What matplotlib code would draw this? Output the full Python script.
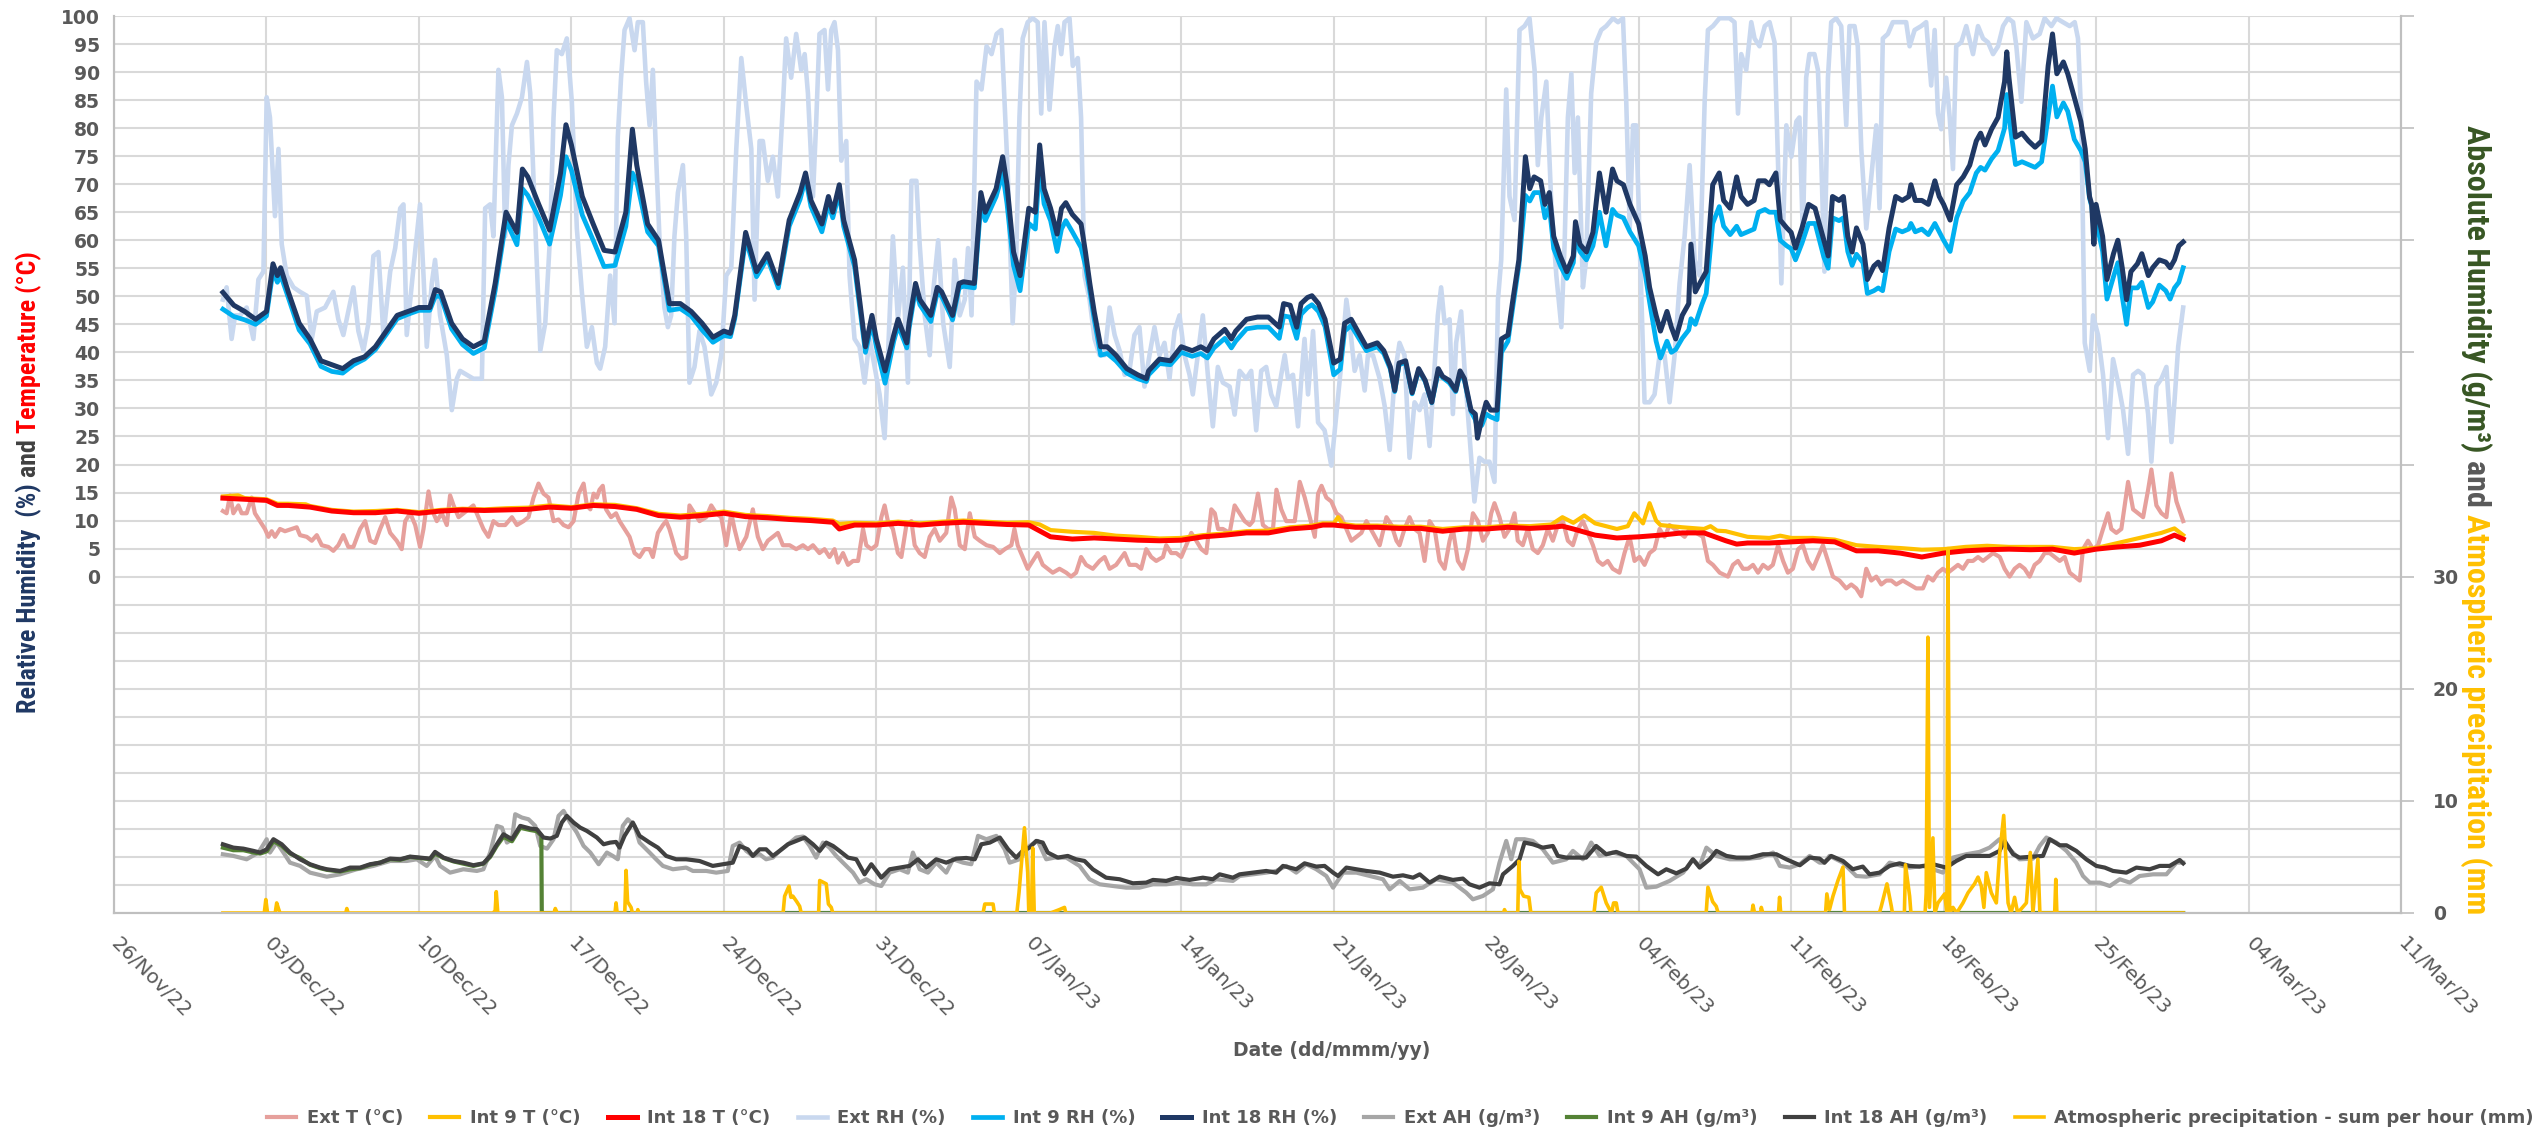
import numpy as np
import matplotlib
matplotlib.use("Agg")
import matplotlib.pyplot as plt
import matplotlib.dates as mdates
from matplotlib import font_manager
from matplotlib.ticker import FixedLocator, FuncFormatter
from datetime import datetime, timedelta

# ---------------- DATA (days since 01/Dec/22) ----------------
START = datetime(2022, 12, 1)

rh18_t = [0, 0.5, 1, 1.5, 2, 2.3, 2.5, 2.65, 3, 3.5, 4, 4.5, 5, 5.5, 6, 6.5, 7, 7.5, 8, 8.5, 9, 9.5, 9.75, 10,
          10.5, 11, 11.5, 12, 12.5, 13, 13.5, 13.75, 14, 14.5, 15, 15.5, 15.75, 16, 16.5, 17, 17.5, 18, 18.5, 18.8,
          19, 19.5, 20, 20.5, 21, 21.5, 22, 22.5, 23, 23.3, 23.5, 24, 24.5, 25, 25.5, 26, 26.5, 26.75, 27, 27.5,
          27.8, 28, 28.3, 28.5, 29, 29.5, 29.8, 30, 30.4, 30.8, 31, 31.4, 31.5, 31.8, 32, 32.5, 32.8, 33, 33.5,
          33.8, 34, 34.5, 34.8, 35, 35.5, 35.8, 36, 36.3, 36.6, 37, 37.3, 37.5, 37.7, 38, 38.3, 38.5, 38.7, 39,
          39.4, 39.6, 39.8, 40, 40.3, 40.6, 41, 41.5, 42, 42.4, 42.5, 43, 43.5, 44, 44.5, 44.9, 45.2, 45.5, 46,
          46.3, 46.5, 47, 47.5, 48, 48.5, 48.7, 49, 49.3, 49.5, 49.8, 50, 50.3, 50.6, 51, 51.3, 51.5, 51.8, 52,
          52.3, 52.5, 53, 53.3, 53.6, 53.8, 54, 54.3, 54.6, 54.9, 55.2, 55.5, 55.8, 56, 56.3, 56.6, 56.8, 57,
          57.3, 57.5, 57.6, 57.8, 58, 58.2, 58.5, 58.7, 59, 59.2, 59.5, 59.8, 60, 60.2, 60.5, 60.7, 60.9, 61.1,
          61.4, 61.7, 62, 62.1, 62.3, 62.6, 62.9, 63.2, 63.5, 63.8, 64, 64.3, 64.6, 65, 65.3, 65.5, 65.8, 66,
          66.3, 66.5, 66.7, 67, 67.3, 67.4, 67.6, 67.9, 68.1, 68.4, 68.7, 68.9, 69.2, 69.5, 69.7, 70, 70.3, 70.5,
          70.8, 71, 71.3, 71.5, 71.8, 72, 72.2, 72.5, 72.8, 73.1, 73.5, 73.7, 73.9, 74.2, 74.4, 74.6, 74.8, 75,
          75.3, 75.5, 75.8, 76, 76.2, 76.5, 76.8, 77.1, 77.4, 77.5, 77.7, 78, 78.3, 78.6, 78.8, 79, 79.3, 79.6,
          79.9, 80.2, 80.5, 80.7, 80.9, 81.2, 81.4, 81.5, 81.8, 81.9, 82, 82.3, 82.6, 82.9, 83.2, 83.5, 83.8, 84,
          84.2, 84.5, 84.7, 85, 85.3, 85.5, 85.7, 85.8, 85.9, 86, 86.3, 86.5, 86.8, 87, 87.2, 87.4, 87.6, 87.9,
          88.1, 88.4, 88.6, 88.9, 89.2, 89.4, 89.6, 89.8, 90]
int18_rh = [50.7, 48.4, 47.3, 45.9, 47.3, 55.8, 53.7, 55.1, 50.8, 45.2, 42.4, 38.5, 37.8, 37.1, 38.5, 39.2, 41.0,
            43.8, 46.6, 47.3, 48.0, 48.0, 51.2, 50.8, 45.2, 42.4, 41.0, 42.0, 52.3, 65.0, 61.4, 72.7, 71.3, 66.4,
            61.8, 72.0, 80.6, 77.0, 67.8, 62.9, 58.2, 57.9, 65.0, 79.8, 73.4, 62.9, 60.0, 48.7, 48.7, 47.3, 45.2,
            42.7, 43.8, 43.4, 46.6, 61.4, 54.4, 57.6, 52.3, 63.6, 68.5, 72.0, 67.1, 62.9, 67.8, 65.0, 69.9, 63.6,
            56.5, 41.0, 46.6, 42.4, 36.7, 43.1, 45.9, 41.7, 45.2, 52.3, 49.4, 46.6, 51.6, 50.8, 46.6, 52.3, 52.6,
            52.3, 68.5, 65.0, 69.2, 74.9, 69.9, 57.9, 53.7, 65.7, 65.0, 77.0, 69.2, 65.7, 61.1, 65.7, 66.7, 64.6,
            62.9, 57.9, 52.3, 47.3, 41.0, 41.0, 39.5, 37.1, 36.0, 35.3, 36.7, 38.8, 38.5, 41.0, 40.3, 41.0, 40.3,
            42.4, 44.1, 42.4, 43.8, 45.9, 46.3, 46.3, 44.5, 48.7, 48.4, 44.5, 48.7, 49.8, 50.1, 48.7, 45.9, 38.1,
            38.8, 45.2, 45.9, 44.5, 42.4, 41.0, 41.7, 40.3, 37.4, 33.2, 38.1, 38.5, 32.8, 37.1, 35.0, 31.1, 37.1,
            35.7, 35.0, 33.2, 36.7, 35.3, 29.7, 29.0, 24.7, 28.2, 31.1, 29.7, 29.7, 42.4, 43.1, 48.7, 56.5, 74.9,
            69.2, 71.3, 70.6, 66.4, 68.5, 60.7, 57.2, 54.4, 57.2, 63.3, 59.3, 57.9, 61.4, 72.0, 65.0, 72.7, 70.6,
            69.9, 66.4, 62.9, 57.2, 51.6, 46.6, 43.8, 47.3, 44.5, 42.4, 46.6, 48.7, 59.3, 50.8, 53.0, 54.4, 69.9,
            72.0, 67.1, 65.7, 71.3, 67.8, 66.4, 67.1, 70.6, 70.6, 69.9, 72.0, 63.6, 62.2, 61.4, 58.6, 62.2, 66.4,
            65.7, 60.0, 57.2, 67.8, 67.1, 67.8, 60.7, 57.9, 62.2, 59.3, 53.0, 55.4, 56.1, 54.6, 62.2, 67.8, 67.1,
            67.8, 69.9, 67.1, 67.1, 66.4, 70.6, 67.8, 66.4, 63.6, 69.9, 71.3, 73.4, 77.7, 79.1, 77.0, 79.8, 81.2,
            81.9, 88.3, 93.6, 89.0, 78.4, 79.1, 77.7, 76.6, 77.7, 91.1, 96.8, 89.7, 91.8, 89.7, 85.5, 81.2, 76.3,
            67.8, 66.4, 59.3, 66.4, 60.7, 53.0, 57.6, 60.0, 55.1, 49.4, 54.4, 55.8, 57.6, 53.7, 55.1, 56.5, 56.1,
            55.1, 56.5, 59.0, 59.7]
int9_rh = [47.7, 46.4, 45.8, 45.0, 46.5, 54.5, 52.5, 53.8, 49.8, 44.0, 41.5, 37.5, 36.6, 36.3, 37.8, 38.8, 40.5,
           43.2, 46.0, 46.8, 47.5, 47.5, 50.0, 50.0, 44.2, 41.4, 39.8, 40.8, 51.0, 63.5, 59.2, 69.2, 68.0, 64.0,
           59.3, 68.0, 74.9, 72.5, 64.5, 60.0, 55.3, 55.5, 62.5, 72.0, 70.5, 61.5, 59.0, 47.5, 47.8, 46.5, 44.0,
           41.8, 43.0, 42.8, 46.0, 60.3, 53.5, 56.8, 51.5, 62.5, 67.3, 71.0, 66.0, 61.5, 66.5, 64.0, 68.5, 62.5,
           55.3, 40.0, 45.3, 41.0, 34.5, 42.0, 44.8, 40.8, 44.2, 51.3, 48.5, 45.5, 50.7, 50.0, 45.8, 51.5, 51.8,
           51.5, 66.5, 63.5, 67.8, 72.0, 66.5, 55.5, 51.0, 63.0, 62.0, 73.5, 66.5, 63.5, 58.0, 62.0, 63.5, 61.5,
           58.7, 55.5, 51.0, 46.0, 39.5, 39.8, 38.5, 36.3, 35.3, 34.8, 36.0, 38.0, 37.8, 40.0, 39.3, 39.8, 39.0,
           40.8, 42.5, 40.8, 42.0, 44.2, 44.5, 44.5, 42.5, 46.5, 46.3, 42.5, 46.8, 48.0, 48.5, 47.3, 44.6, 36.0,
           37.0, 43.8, 44.8, 43.5, 41.6, 40.3, 41.0, 39.8, 37.0, 33.0, 37.8, 38.2, 32.6, 36.8, 34.8, 31.0, 36.5,
           35.5, 34.6, 33.0, 36.2, 35.0, 29.5, 28.0, 26.5, 27.0, 29.0, 28.5, 28.0, 40.0, 42.0, 47.5, 55.5, 68.0,
           67.0, 68.5, 68.5, 64.0, 66.0, 58.5, 55.5, 53.2, 56.0, 61.0, 58.0, 56.5, 59.0, 65.0, 59.0, 65.5, 64.5,
           64.0, 61.5, 59.0, 54.0, 49.0, 42.0, 39.0, 42.0, 40.0, 40.5, 42.5, 44.0, 46.0, 45.0, 48.5, 50.5, 63.0,
           66.0, 62.5, 61.0, 62.5, 61.0, 61.5, 62.0, 65.0, 65.5, 65.0, 65.0, 60.0, 59.0, 58.5, 56.5, 59.5, 63.0,
           63.0, 57.0, 55.0, 64.0, 63.5, 64.0, 58.0, 55.5, 57.5, 56.0, 50.5, 51.0, 51.5, 51.0, 58.0, 62.0, 61.5,
           62.0, 63.0, 61.5, 62.0, 61.0, 63.0, 61.5, 60.0, 58.0, 64.0, 67.0, 68.5, 72.0, 73.0, 72.5, 74.5, 75.5,
           76.0, 80.0, 86.0, 82.0, 73.5, 74.0, 73.5, 73.0, 74.0, 82.0, 87.5, 82.0, 84.5, 83.0, 78.0, 76.0, 74.0,
           67.5, 66.0, 62.0, 63.5, 58.0, 49.5, 53.5, 56.0, 50.0, 45.0, 51.5, 51.5, 52.5, 48.0, 49.0, 52.0, 51.0,
           49.5, 51.5, 52.5, 55.1]

ext_rh_t = [0, 0.17, 0.40, 0.56, 0.79, 1.09, 1.40, 1.63, 1.86, 2.01, 2.16, 2.39, 2.55, 2.70, 2.93, 3.24, 3.54,
            3.85, 4.08, 4.31, 4.69, 5.07, 5.30, 5.53, 5.99, 6.22, 6.45, 6.68, 6.91, 7.14, 7.37, 7.68, 7.91, 8.14,
            8.29, 8.44, 8.75, 9.05, 9.21, 9.36, 9.59, 9.74, 9.97, 10.28, 10.51, 10.74, 10.89, 11.20, 11.50, 11.89,
            12.04, 12.27, 12.42, 12.65, 12.81, 12.96, 13.11, 13.27, 13.50, 13.73, 13.96, 14.11, 14.34, 14.57,
            14.80, 15.03, 15.18, 15.33, 15.56, 15.79, 16.02, 16.25, 16.48, 16.71, 16.94, 17.17, 17.32, 17.55,
            17.78, 17.98, 18.13, 18.28, 18.44, 18.67, 18.90, 19.05, 19.28, 19.43, 19.59, 19.74, 19.89, 20.04,
            20.27, 20.43, 20.58, 20.73, 20.89, 21.12, 21.27, 21.42, 21.65, 21.88, 22.11, 22.42, 22.65, 22.88,
            23.11, 23.34, 23.57, 23.80, 24.03, 24.26, 24.41, 24.64, 24.79, 25.02, 25.25, 25.48, 25.71, 25.86,
            26.09, 26.32, 26.55, 26.71, 26.86, 27.09, 27.24, 27.39, 27.62, 27.78, 27.93, 28.08, 28.24, 28.39,
            28.62, 28.77, 29.00, 29.23, 29.46, 29.69, 29.92, 30.15, 30.38, 30.61, 30.76, 30.99, 31.22, 31.45,
            31.61, 31.84, 31.99, 32.22, 32.45, 32.61, 32.84, 33.07, 33.37, 33.60, 33.83, 34.06, 34.21, 34.37,
            34.60, 34.83, 35.06, 35.29, 35.52, 35.74, 36.04, 36.26, 36.42, 36.57, 36.72, 36.95, 37.18, 37.41,
            37.57, 37.72, 37.95, 38.18, 38.33, 38.49, 38.64, 38.87, 39.02, 39.25, 39.40, 39.56, 39.79, 40.02,
            40.25, 40.48, 40.71, 40.94, 41.17, 41.40, 41.62, 41.85, 42.08, 42.31, 42.54, 42.77, 43.00, 43.23,
            43.46, 43.69, 43.92, 44.15, 44.38, 44.53, 44.76, 44.99, 45.22, 45.45, 45.68, 45.91, 46.22, 46.45,
            46.68, 46.98, 47.21, 47.44, 47.67, 47.90, 48.13, 48.36, 48.59, 48.75, 48.90, 49.13, 49.36, 49.51,
            49.66, 49.82, 50.05, 50.28, 50.58, 50.89, 51.12, 51.35, 51.58, 51.73, 51.96, 52.19, 52.42, 52.57,
            52.80, 53.11, 53.34, 53.57, 53.80, 54.02, 54.25, 54.48, 54.71, 54.94, 55.17, 55.40, 55.63, 55.78,
            55.93, 56.09, 56.32, 56.47, 56.62, 56.85, 57.00, 57.16, 57.31, 57.46, 57.69, 57.92, 58.15, 58.38,
            58.54, 58.69, 58.92, 59.07, 59.30, 59.53, 59.76, 59.99, 60.22, 60.37, 60.53, 60.76, 60.99, 61.22,
            61.45, 61.60, 61.75, 61.91, 62.06, 62.21, 62.44, 62.59, 62.82, 63.05, 63.28, 63.51, 63.82, 64.05,
            64.28, 64.43, 64.59, 64.74, 64.89, 65.04, 65.27, 65.50, 65.73, 65.96, 66.19, 66.42, 66.65, 66.88,
            67.11, 67.34, 67.57, 67.80, 68.03, 68.18, 68.41, 68.71, 69.17, 69.40, 69.56, 69.71, 69.94, 70.17,
            70.32, 70.55, 70.79, 71.01, 71.24, 71.39, 71.55, 71.78, 72.01, 72.24, 72.38, 72.54, 72.69, 72.84,
            73.07, 73.23, 73.38, 73.53, 73.69, 73.84, 74.07, 74.30, 74.53, 74.68, 74.91, 75.06, 75.22, 75.45,
            75.68, 75.91, 76.06, 76.21, 76.44, 76.67, 76.98, 77.28, 77.44, 77.67, 77.97, 78.20, 78.43, 78.59,
            78.74, 78.89, 79.12, 79.28, 79.43, 79.58, 79.81, 80.04, 80.35, 80.58, 80.81, 81.04, 81.27, 81.50,
            81.73, 81.96, 82.19, 82.34, 82.57, 82.80, 83.10, 83.41, 83.64, 83.95, 84.18, 84.48, 84.79, 85.02,
            85.17, 85.32, 85.48, 85.71, 85.86, 86.09, 86.32, 86.55, 86.78, 87.01, 87.24, 87.47, 87.70, 87.93,
            88.16, 88.39, 88.54, 88.77, 89.00, 89.23, 89.46, 89.61, 89.77, 90.00]
ext_rh = [49.4, 51.6, 42.4, 46.6, 46.6, 48.0, 42.4, 53.0, 54.4, 85.5, 81.9, 64.3, 76.3, 59.3, 53.7, 51.6, 50.8,
          50.1, 42.4, 47.3, 48.0, 50.8, 45.9, 43.1, 51.6, 43.8, 40.3, 45.2, 57.2, 57.9, 43.1, 54.4, 58.6, 65.7,
          66.4, 43.1, 55.1, 66.4, 53.7, 41.0, 52.3, 56.5, 46.6, 39.5, 29.7, 35.3, 36.7, 36.0, 35.3, 35.3, 65.7,
          66.4, 60.7, 90.4, 85.5, 60.7, 73.4, 80.5, 82.6, 85.5, 91.8, 86.2, 62.9, 40.3, 45.2, 61.4, 81.9, 93.9,
          93.2, 96.0, 84.7, 62.1, 50.8, 41.0, 44.5, 38.1, 37.1, 41.0, 53.7, 45.2, 78.4, 89.0, 97.5, 99.6, 93.9,
          98.9, 98.9, 88.3, 80.5, 90.4, 74.9, 60.7, 48.0, 44.5, 46.6, 60.7, 68.5, 73.4, 60.7, 34.6, 37.4, 43.8,
          41.0, 32.5, 34.6, 39.5, 53.7, 55.1, 76.3, 92.5, 84.0, 76.3, 49.4, 77.7, 77.7, 70.6, 74.9, 67.8, 84.0,
          96.0, 89.0, 96.8, 90.4, 93.2, 86.2, 67.8, 81.2, 96.8, 97.5, 86.9, 97.5, 98.9, 93.9, 74.2, 77.7, 53.7,
          42.4, 41.0, 34.6, 42.4, 37.4, 32.5, 24.7, 46.6, 60.7, 45.9, 55.1, 34.6, 70.6, 70.6, 59.3, 46.6, 39.5,
          50.8, 60.0, 45.2, 37.4, 56.5, 46.6, 49.4, 58.6, 46.6, 88.3, 86.9, 94.6, 93.2, 96.8, 97.5, 71.3, 45.2,
          56.5, 81.9, 96.0, 98.9, 99.6, 98.9, 82.6, 98.9, 83.3, 94.6, 98.2, 93.2, 98.9, 99.6, 91.1, 92.5, 81.9,
          53.7, 49.4, 42.4, 39.5, 39.5, 48.0, 43.1, 40.3, 36.0, 36.7, 43.1, 44.5, 33.9, 39.5, 44.5, 39.5, 41.7,
          35.3, 43.8, 46.6, 39.5, 36.0, 32.5, 39.5, 46.6, 36.0, 26.8, 37.4, 34.6, 33.9, 28.9, 36.7, 35.3, 36.7,
          26.1, 36.7, 37.4, 32.5, 30.4, 36.0, 39.5, 35.3, 36.0, 26.8, 35.3, 42.4, 32.5, 43.8, 27.5, 26.1, 19.8,
          28.9, 38.1, 49.4, 45.2, 36.7, 39.5, 33.2, 39.5, 39.5, 35.3, 30.4, 22.6, 36.0, 41.7, 39.5, 21.2, 31.1,
          29.7, 32.5, 23.3, 37.4, 46.6, 51.6, 45.2, 45.9, 29.0, 41.7, 47.3, 37.4, 29.0, 21.2, 13.4, 21.2, 20.5,
          20.5, 16.9, 49.4, 56.5, 86.9, 67.8, 63.6, 97.5, 98.2, 99.6, 90.4, 73.4, 81.9, 88.3, 66.4, 53.7, 44.5,
          59.3, 81.9, 89.7, 72.0, 81.9, 51.6, 56.5, 86.2, 95.3, 97.5, 98.2, 99.6, 98.9, 99.6, 84.7, 62.1, 80.5,
          80.5, 60.7, 31.1, 31.1, 32.5, 39.5, 39.5, 31.1, 39.5, 52.3, 60.7, 73.4, 56.5, 53.7, 84.7, 97.5, 98.2,
          99.6, 99.6, 98.9, 82.6, 93.2, 90.4, 98.9, 96.0, 94.6, 98.2, 98.9, 95.3, 74.9, 52.3, 80.5, 74.9, 81.2,
          81.9, 60.7, 89.0, 93.2, 93.2, 90.4, 74.9, 54.4, 89.0, 98.9, 99.6, 98.2, 80.5, 98.2, 98.2, 94.6, 76.3,
          62.1, 71.3, 80.5, 65.7, 96.0, 96.8, 98.9, 98.9, 98.9, 94.6, 97.5, 98.2, 98.9, 87.6, 97.5, 82.6, 79.8,
          89.0, 81.9, 72.7, 94.6, 95.3, 98.2, 93.2, 98.2, 96.0, 95.3, 93.2, 94.6, 98.2, 99.6, 98.9, 94.6, 84.7,
          98.9, 96.0, 96.8, 99.6, 98.2, 99.6, 98.9, 98.2, 98.9, 96.0, 81.9, 41.7, 36.7, 46.6, 43.1, 36.0, 24.7,
          38.8, 34.6, 29.7, 21.9, 36.0, 36.7, 36.0, 29.0, 20.5, 34.0, 35.3, 37.4, 24.0, 31.8, 41.0, 48.0]

ext_t_t = [0, 0.17, 0.33, 0.48, 0.71, 0.86, 1.09, 1.32, 1.47, 1.70, 1.93, 2.09, 2.24, 2.39, 2.62, 2.85, 3.16,
           3.39, 3.54, 3.85, 4.08, 4.31, 4.54, 4.84, 5.07, 5.30, 5.53, 5.76, 5.99, 6.30, 6.53, 6.76, 6.99, 7.22,
           7.45, 7.68, 7.98, 8.21, 8.37, 8.60, 8.83, 9.05, 9.21, 9.44, 9.59, 9.82, 10.05, 10.28, 10.43, 10.59,
           10.82, 11.05, 11.27, 11.50, 11.73, 11.96, 12.19, 12.42, 12.65, 12.96, 13.27, 13.50, 13.80, 14.03,
           14.26, 14.49, 14.72, 14.95, 15.18, 15.41, 15.64, 15.87, 16.10, 16.33, 16.56, 16.71, 16.87, 17.02,
           17.17, 17.29, 17.44, 17.59, 17.82, 18.05, 18.21, 18.44, 18.67, 18.90, 19.13, 19.36, 19.59, 19.74,
           19.97, 20.20, 20.35, 20.50, 20.66, 20.81, 21.04, 21.27, 21.42, 21.65, 21.88, 22.19, 22.42, 22.65,
           22.88, 23.11, 23.34, 23.49, 23.72, 24.03, 24.33, 24.56, 24.79, 25.02, 25.25, 25.48, 25.71, 26.02,
           26.32, 26.63, 26.86, 27.09, 27.39, 27.62, 27.85, 28.08, 28.24, 28.47, 28.70, 28.93, 29.16, 29.39,
           29.54, 29.77, 30.00, 30.23, 30.38, 30.53, 30.76, 30.99, 31.15, 31.38, 31.61, 31.76, 31.99, 32.22,
           32.45, 32.68, 32.91, 33.21, 33.44, 33.60, 33.83, 34.06, 34.29, 34.52, 34.75, 35.06, 35.36, 35.67,
           35.90, 36.20, 36.34, 36.49, 36.72, 36.95, 37.18, 37.41, 37.64, 37.87, 38.10, 38.41, 38.72, 38.94,
           39.17, 39.40, 39.63, 39.94, 40.25, 40.48, 40.71, 41.01, 41.40, 41.62, 41.93, 42.16, 42.39, 42.62,
           42.85, 43.16, 43.31, 43.54, 43.77, 44.00, 44.23, 44.46, 44.69, 44.92, 45.15, 45.38, 45.54, 45.69,
           45.91, 46.22, 46.45, 46.68, 46.91, 47.14, 47.29, 47.52, 47.75, 47.98, 48.21, 48.37, 48.59, 48.82,
           48.98, 49.21, 49.44, 49.67, 49.90, 50.13, 50.28, 50.44, 50.66, 50.89, 51.12, 51.35, 51.58, 51.81,
           52.04, 52.27, 52.50, 52.80, 53.11, 53.42, 53.65, 53.88, 54.02, 54.25, 54.48, 54.71, 54.94, 55.17,
           55.40, 55.63, 55.86, 56.09, 56.32, 56.47, 56.70, 56.93, 57.16, 57.39, 57.62, 57.85, 58.08, 58.23,
           58.38, 58.61, 58.84, 59.07, 59.30, 59.45, 59.68, 59.91, 60.14, 60.37, 60.60, 60.83, 61.06, 61.29,
           61.52, 61.75, 61.98, 62.21, 62.44, 62.67, 62.90, 63.13, 63.35, 63.58, 63.81, 64.12, 64.35, 64.58,
           64.81, 65.04, 65.27, 65.50, 65.73, 65.96, 66.19, 66.42, 66.65, 66.88, 67.11, 67.34, 67.64, 67.95,
           68.18, 68.41, 68.72, 69.10, 69.33, 69.56, 69.79, 70.02, 70.25, 70.48, 70.71, 70.94, 71.16, 71.40,
           71.63, 71.85, 72.08, 72.32, 72.54, 72.77, 73.00, 73.23, 73.46, 73.69, 73.92, 74.22, 74.53, 74.76,
           74.99, 75.22, 75.45, 75.68, 75.91, 76.14, 76.37, 76.60, 76.83, 77.13, 77.44, 77.74, 78.05, 78.28,
           78.51, 78.74, 78.97, 79.20, 79.43, 79.66, 79.89, 80.12, 80.35, 80.58, 80.81, 81.04, 81.27, 81.58,
           81.80, 82.03, 82.26, 82.49, 82.72, 82.95, 83.18, 83.41, 83.64, 83.87, 84.10, 84.33, 84.56, 84.79,
           85.02, 85.25, 85.40, 85.63, 85.86, 86.09, 86.32, 86.55, 86.70, 86.93, 87.16, 87.47, 87.70, 87.93,
           88.16, 88.39, 88.54, 88.77, 89.00, 89.23, 89.46, 89.69, 90.00]
ext_t = [11.7, 11.3, 14.5, 11.3, 12.7, 11.3, 11.3, 14.1, 11.3, 9.9, 8.5, 7.1, 8.1, 7.1, 8.5, 8.1, 8.5, 8.8, 7.4,
         7.1, 6.4, 7.4, 5.6, 5.3, 4.6, 5.6, 7.4, 5.3, 5.3, 8.5, 9.9, 6.4, 6.0, 8.5, 10.6, 7.8, 6.4, 4.9, 9.9,
         11.3, 9.2, 5.3, 8.5, 15.2, 12.0, 9.9, 11.3, 9.2, 14.5, 12.7, 10.6, 11.3, 12.0, 12.7, 10.6, 8.5, 7.1,
         9.9, 9.2, 9.2, 10.6, 9.2, 9.9, 10.6, 14.1, 16.6, 14.8, 14.1, 9.9, 10.2, 9.2, 8.8, 9.9, 14.8, 16.6,
         12.7, 12.0, 14.8, 14.1, 15.5, 16.2, 12.0, 10.6, 11.3, 9.9, 8.5, 7.1, 4.2, 3.5, 4.9, 4.9, 3.5, 7.8, 9.2,
         9.9, 8.5, 6.4, 4.2, 3.2, 3.5, 12.7, 11.3, 9.9, 10.6, 12.7, 11.3, 10.6, 5.6, 11.3, 8.5, 4.9, 7.1, 12.0,
         7.1, 4.9, 6.4, 7.1, 7.8, 5.6, 5.6, 4.9, 5.6, 4.9, 5.6, 4.2, 4.9, 3.5, 4.9, 2.5, 4.2, 2.1, 2.8, 2.8,
         8.5, 5.6, 4.9, 5.6, 10.6, 12.7, 9.9, 8.5, 4.2, 3.5, 9.2, 9.9, 5.6, 4.2, 3.5, 7.1, 8.5, 6.4, 7.8, 14.1,
         12.0, 5.6, 4.9, 11.3, 7.1, 6.4, 5.6, 5.3, 4.2, 4.9, 5.6, 8.5, 5.6, 3.5, 1.4, 2.8, 4.2, 2.1, 1.4, 0.7,
         1.4, 0.7, 0.0, 0.7, 3.5, 2.1, 1.4, 2.8, 3.5, 1.4, 2.1, 4.2, 2.1, 2.1, 1.4, 4.9, 3.5, 2.8, 3.5, 5.6,
         4.2, 4.2, 3.5, 5.6, 7.8, 6.4, 4.9, 4.2, 12.0, 11.3, 8.5, 8.5, 7.8, 12.7, 11.3, 9.9, 9.2, 9.9, 14.8,
         9.2, 8.5, 8.5, 15.5, 12.0, 9.9, 9.9, 9.9, 16.9, 14.1, 10.6, 7.1, 14.8, 16.2, 14.1, 13.4, 11.3, 10.6,
         8.5, 6.4, 7.1, 7.8, 9.9, 7.8, 5.6, 10.6, 9.2, 6.4, 5.6, 8.5, 10.6, 8.5, 7.8, 2.8, 9.9, 8.5, 2.8, 1.4,
         6.4, 8.5, 2.8, 1.4, 4.9, 11.3, 9.9, 6.4, 7.8, 11.3, 13.1, 10.6, 7.1, 8.5, 11.3, 6.4, 5.6, 8.5, 4.9,
         4.2, 5.6, 8.5, 6.4, 9.2, 9.9, 6.4, 5.6, 8.5, 9.9, 7.8, 5.6, 2.8, 2.1, 2.8, 1.4, 0.7, 4.2, 7.1, 2.8,
         3.5, 2.1, 4.2, 4.9, 8.5, 7.1, 9.2, 8.5, 7.8, 7.1, 8.5, 7.8, 7.1, 2.8, 2.1, 0.7, 0.0, 2.1, 2.8, 1.4,
         1.4, 2.1, 0.7, 2.1, 1.4, 2.1, 5.6, 2.8, 0.7, 1.4, 4.9, 5.6, 2.8, 1.4, 3.5, 5.6, 2.8, 0.0, -0.7, -2.1,
         -1.4, -2.1, -3.5, 1.4, -0.7, 0.0, -1.4, -0.7, -0.7, -1.4, -0.7, -1.4, -2.1, -2.1, 0.0, -0.7, 0.7, 1.4,
         0.7, 1.4, 2.1, 1.4, 2.8, 2.8, 3.5, 2.8, 3.5, 4.2, 3.5, 1.4, 0.0, 1.4, 2.1, 1.4, 0.0, 2.1, 2.8, 4.2,
         4.2, 3.5, 2.8, 3.5, 0.7, 0.0, -0.7, 4.9, 6.4, 4.9, 5.6, 8.5, 11.3, 8.5, 7.8, 8.5, 16.9, 12.0, 11.3,
         10.6, 15.5, 19.1, 12.7, 11.3, 10.6, 18.4, 13.4, 9.9]

int18_t_t = [0, 1, 2, 2.5, 3, 4, 5, 6, 7, 8, 9, 10, 11, 12, 13, 14, 15, 16, 17, 18, 19, 20, 21, 22, 23, 24, 25,
             26, 27, 28, 28.3, 29, 30, 31, 32, 33, 34, 35, 36, 37, 38, 39, 40, 41, 42, 43, 44, 45, 46, 47, 48,
             49, 50, 50.5, 51, 52, 53, 54, 55, 56, 57, 58, 59, 60, 61, 61.5, 62, 63, 64, 65, 66, 67, 68, 69,
             69.5, 70, 71, 72, 73, 74, 75, 76, 77, 78, 79, 80, 81, 82, 83, 84, 85, 86, 87, 88, 89, 89.6, 90]
int18_t = [14.0, 13.8, 13.6, 12.7, 12.7, 12.4, 11.7, 11.4, 11.4, 11.7, 11.3, 11.7, 11.9, 11.8, 11.9, 12.0, 12.4,
           12.2, 12.7, 12.5, 12.0, 10.9, 10.6, 10.9, 11.3, 10.7, 10.5, 10.2, 10.0, 9.7, 8.5, 9.2, 9.2, 9.5, 9.2,
           9.5, 9.7, 9.5, 9.3, 9.2, 7.1, 6.7, 6.9, 6.7, 6.5, 6.4, 6.5, 7.1, 7.4, 7.8, 7.8, 8.5, 8.8, 9.2, 9.2,
           8.8, 8.8, 8.6, 8.6, 8.1, 8.5, 8.5, 8.8, 8.6, 8.8, 9.0, 8.5, 7.4, 6.9, 7.1, 7.4, 7.8, 7.8, 6.4, 5.8,
           6.0, 6.0, 6.2, 6.4, 6.2, 4.6, 4.6, 4.2, 3.5, 4.2, 4.6, 4.8, 4.9, 4.8, 4.9, 4.2, 4.9, 5.3, 5.6, 6.4,
           7.4, 6.7]

int9_t_t = [0, 0.7, 1, 2, 2.5, 3, 3.8, 4, 5, 6, 7, 8, 9, 10, 11, 12, 13, 14, 15, 16, 17, 18, 19, 20, 21, 22, 23,
            24, 25, 26, 27, 28, 28.3, 29, 30, 31, 32, 33, 34, 35, 36, 37, 37.5, 38, 39, 40, 41, 42, 43, 44, 45,
            46, 47, 48, 49, 50, 50.5, 51, 51.2, 51.4, 52, 53, 54, 55, 56, 57, 58, 59, 60, 61, 61.5, 62, 62.5, 63,
            63.3, 64, 64.5, 64.8, 65.2, 65.5, 65.8, 66, 67, 68, 68.3, 68.6, 69, 70, 71, 71.5, 72, 73, 74, 75, 76,
            77, 78, 79, 80, 81, 82, 83, 84, 85, 86, 87, 88, 89, 89.6, 90]
int9_t = [14.3, 14.5, 14.0, 13.8, 13.0, 13.0, 12.9, 12.6, 11.9, 11.6, 11.7, 11.9, 11.5, 11.9, 12.1, 12.0, 12.2,
          12.3, 12.7, 12.4, 12.9, 12.8, 12.2, 11.2, 10.9, 11.2, 11.6, 11.0, 10.8, 10.5, 10.3, 10.0, 9.4, 9.6, 9.5,
          9.8, 9.5, 9.8, 10.0, 9.8, 9.6, 9.7, 9.3, 8.3, 8.0, 7.8, 7.3, 7.1, 6.8, 6.9, 7.4, 7.7, 8.1, 8.2, 8.8,
          9.1, 9.5, 9.5, 10.6, 9.4, 9.1, 9.1, 8.9, 8.9, 8.5, 8.8, 8.8, 9.1, 9.0, 9.3, 10.6, 9.6, 10.9, 9.5, 9.2,
          8.5, 9.0, 11.3, 9.5, 13.1, 10.0, 9.2, 8.8, 8.5, 9.0, 8.2, 8.1, 7.1, 6.9, 7.3, 6.9, 6.9, 6.6, 5.6, 5.3,
          5.1, 4.8, 4.9, 5.3, 5.5, 5.3, 5.3, 5.3, 4.9, 5.1, 6.0, 6.9, 7.8, 8.6, 7.4]

ah18_t = [0, 0.48, 0.94, 1.40, 1.71, 2.01, 2.32, 2.70, 3.08, 3.54, 4.00, 4.46, 4.77, 5.38, 5.84, 6.30, 6.76, 7.22,
          7.68, 8.14, 8.59, 9.05, 9.51, 9.74, 10.13, 10.59, 11.04, 11.50, 11.96, 12.27, 12.58, 12.88, 13.27,
          13.65, 14.11, 14.41, 14.72, 15.03, 15.33, 15.56, 15.79, 16.10, 16.40, 16.71, 17.17, 17.48, 17.78,
          18.05, 18.21, 18.44, 18.82, 19.13, 19.59, 19.97, 20.35, 20.81, 21.27, 21.88, 22.49, 22.95, 23.41,
          23.72, 24.10, 24.33, 24.64, 24.94, 25.25, 25.56, 25.94, 26.32, 26.71, 27.09, 27.40, 27.70, 28.01,
          28.31, 28.70, 29.08, 29.46, 29.77, 30.23, 30.61, 31.07, 31.53, 31.91, 32.30, 32.75, 33.21, 33.67,
          34.13, 34.52, 34.82, 35.21, 35.67, 36.05, 36.42, 36.72, 37.03, 37.34, 37.64, 37.87, 38.33, 38.79,
          39.17, 39.56, 39.94, 40.55, 41.17, 41.78, 42.39, 42.70, 43.31, 43.77, 44.38, 44.99, 45.45, 45.76,
          46.37, 46.68, 47.29, 47.90, 48.36, 48.67, 49.28, 49.66, 50.20, 50.58, 50.97, 51.20, 51.58, 52.04,
          52.50, 53.11, 53.72, 54.18, 54.64, 54.95, 55.40, 55.86, 56.47, 56.93, 57.23, 57.69, 58.15, 58.61,
          58.77, 59.23, 59.53, 59.76, 60.14, 60.60, 61.06, 61.29, 61.68, 62.13, 62.59, 63.05, 63.51, 63.97,
          64.43, 64.89, 65.35, 65.89, 66.27, 66.73, 67.19, 67.49, 67.80, 68.26, 68.57, 69.03, 69.49, 70.10,
          70.71, 71.32, 71.78, 72.40, 72.85, 73.31, 73.53, 73.84, 74.38, 74.83, 75.29, 75.60, 76.06, 76.52,
          76.98, 77.44, 77.90, 78.51, 79.12, 79.58, 80.04, 80.65, 81.11, 81.57, 81.80, 82.19, 82.49, 83.10,
          83.56, 83.87, 84.33, 84.64, 85.09, 85.55, 86.01, 86.40, 86.78, 87.39, 87.85, 88.46, 88.92, 89.38,
          89.84, 90.00]
int18_ah = [6.13, 5.83, 5.74, 5.54, 5.39, 5.68, 6.58, 6.13, 5.39, 4.79, 4.35, 4.05, 3.90, 3.75, 4.05, 4.05,
            4.35, 4.49, 4.85, 4.79, 5.03, 4.94, 4.85, 5.45, 4.94, 4.64, 4.49, 4.26, 4.43, 5.09, 6.13, 7.02,
            6.58, 7.77, 7.53, 7.47, 6.73, 6.64, 6.88, 8.07, 8.66, 8.07, 7.62, 7.32, 6.73, 6.13, 6.28, 6.34,
            5.83, 6.88, 8.07, 6.88, 6.28, 5.83, 5.09, 4.79, 4.79, 4.64, 4.20, 4.35, 4.49, 5.98, 5.68, 5.09,
            5.68, 5.68, 5.09, 5.54, 6.13, 6.43, 6.73, 6.13, 5.54, 6.28, 5.98, 5.54, 4.94, 4.79, 3.45, 4.35,
            3.15, 3.90, 4.05, 4.20, 4.79, 4.05, 4.79, 4.49, 4.85, 4.91, 4.79, 6.13, 6.28, 6.73, 5.68, 4.94,
            5.54, 5.83, 6.43, 6.28, 5.39, 4.94, 5.09, 4.79, 4.64, 3.90, 3.15, 3.01, 2.65, 2.71, 2.95, 2.86,
            3.13, 2.95, 3.15, 3.01, 3.45, 3.15, 3.45, 3.60, 3.75, 3.60, 4.20, 3.90, 4.43, 4.14, 4.20, 3.60,
            3.30, 4.05, 3.90, 3.75, 3.60, 3.24, 3.36, 3.15, 3.45, 2.71, 3.24, 2.95, 3.07, 2.56, 2.26, 2.65,
            2.56, 3.45, 4.20, 4.79, 6.28, 6.13, 5.83, 5.98, 5.09, 4.94, 4.94, 4.94, 5.98, 5.24, 5.45, 5.09,
            5.03, 4.20, 3.45, 3.90, 3.54, 3.96, 4.79, 4.05, 4.79, 5.54, 5.09, 4.94, 4.94, 5.24, 5.24, 4.79,
            4.26, 4.94, 4.85, 4.49, 5.09, 4.64, 3.90, 4.14, 3.45, 3.60, 4.20, 4.43, 4.20, 4.14, 4.35, 4.05,
            4.64, 5.09, 5.09, 5.09, 5.54, 6.43, 5.24, 4.94, 5.03, 5.09, 6.58, 6.04, 6.04, 5.54, 4.79, 4.20,
            4.05, 3.75, 3.60, 4.05, 3.90, 4.20, 4.20, 4.73, 4.43]

ext_ah_t = [0, 0.48, 1.09, 1.63, 2.01, 2.16, 2.47, 2.78, 3.08, 3.54, 4.00, 4.77, 5.38, 6.14, 6.91, 7.68, 8.44,
            8.90, 9.36, 9.74, 9.97, 10.43, 11.04, 11.66, 11.96, 12.27, 12.58, 12.81, 13.04, 13.27, 13.42,
            13.73, 14.03, 14.34, 14.57, 14.88, 15.18, 15.41, 15.64, 15.94, 16.25, 16.56, 16.87, 17.25, 17.63,
            17.90, 18.13, 18.36, 18.59, 18.90, 19.13, 19.59, 19.89, 20.20, 20.66, 21.27, 21.58, 22.19, 22.65,
            23.18, 23.41, 23.72, 24.03, 24.33, 24.64, 24.94, 25.25, 25.56, 25.86, 26.32, 26.63, 26.94, 27.24,
            27.55, 27.85, 28.16, 28.47, 28.93, 29.23, 29.54, 29.92, 30.23, 30.61, 31.07, 31.45, 31.68, 31.99,
            32.37, 32.75, 33.21, 33.52, 33.98, 34.36, 34.67, 35.05, 35.51, 35.89, 36.12, 36.57, 37.03, 37.41,
            37.80, 38.18, 38.72, 39.33, 39.79, 40.25, 40.86, 41.47, 42.08, 42.70, 43.31, 43.92, 44.53, 45.15,
            45.61, 46.37, 46.68, 47.29, 47.90, 48.36, 48.82, 49.28, 49.74, 50.20, 50.66, 50.97, 51.43, 52.04,
            52.65, 53.26, 53.57, 54.03, 54.49, 55.09, 55.70, 56.47, 57.08, 57.39, 57.85, 58.31, 58.61, 58.92,
            59.15, 59.38, 59.76, 60.14, 60.60, 61.06, 61.68, 61.98, 62.44, 62.82, 63.21, 63.82, 64.43, 65.04,
            65.35, 65.81, 66.42, 67.04, 67.49, 67.80, 68.11, 68.57, 69.18, 69.79, 70.56, 71.17, 71.48, 71.94,
            72.40, 72.85, 73.31, 73.53, 73.76, 74.38, 74.99, 75.45, 76.06, 76.52, 76.98, 77.44, 78.05, 78.51,
            78.97, 79.43, 80.04, 80.65, 81.11, 81.57, 81.96, 82.49, 83.10, 83.41, 83.72, 84.18, 84.64, 85.09,
            85.40, 85.71, 86.17, 86.63, 87.09, 87.55, 88.00, 88.62, 89.23, 89.69, 90.00]
ext_ah = [5.24, 5.09, 4.79, 5.39, 6.58, 5.39, 6.28, 5.39, 4.49, 4.20, 3.60, 3.24, 3.45, 3.90, 4.20, 4.64, 4.64,
          4.79, 4.20, 5.09, 4.20, 3.60, 3.90, 3.75, 3.90, 5.39, 7.77, 7.62, 6.28, 6.58, 8.81, 8.51, 8.36, 7.77,
          5.98, 5.74, 6.58, 8.66, 9.11, 8.07, 7.17, 5.98, 5.39, 4.35, 5.39, 5.09, 4.79, 7.77, 8.36, 7.77, 6.28,
          5.39, 4.79, 4.20, 3.90, 4.05, 3.75, 3.75, 3.60, 3.75, 5.98, 6.28, 5.54, 5.09, 5.24, 4.79, 4.94, 5.54,
          5.98, 6.73, 6.82, 5.98, 4.94, 6.28, 5.83, 5.09, 4.49, 3.60, 2.71, 3.01, 2.56, 2.41, 3.60, 3.90, 3.60,
          5.39, 3.90, 3.60, 4.49, 3.60, 4.79, 4.49, 4.35, 6.88, 6.58, 6.88, 5.68, 4.49, 4.79, 5.98, 6.43, 4.79,
          4.94, 4.94, 4.20, 3.01, 2.56, 2.41, 2.26, 2.26, 2.56, 2.56, 2.71, 2.56, 2.56, 3.01, 2.86, 3.30, 3.45,
          3.60, 3.75, 4.20, 3.60, 4.35, 3.90, 3.30, 2.26, 3.60, 3.60, 3.30, 3.01, 2.11, 2.86, 2.11, 2.26, 3.01,
          2.71, 1.82, 1.22, 1.52, 2.11, 4.49, 6.43, 4.79, 6.58, 6.58, 6.43, 5.68, 4.49, 4.79, 5.54, 4.79, 6.28,
          5.09, 5.39, 5.09, 3.90, 2.26, 2.35, 2.86, 3.60, 4.79, 4.20, 5.83, 5.09, 4.79, 4.79, 4.94, 5.39, 4.20,
          4.05, 4.35, 5.09, 4.49, 4.49, 5.09, 4.49, 3.30, 3.24, 3.45, 4.49, 4.26, 4.05, 4.20, 3.90, 3.60, 4.94,
          5.24, 5.45, 5.83, 6.58, 5.83, 4.79, 4.85, 5.98, 6.73, 6.28, 5.54, 4.49, 3.30, 2.71, 2.71, 2.41, 3.01,
          2.71, 3.30, 3.45, 3.45, 4.49, 4.49]

ah9_t = [0, 0.48, 0.94, 1.40, 1.71, 2.01, 2.32, 2.70, 3.08, 3.54, 4.00, 4.46, 4.77, 5.38, 5.84, 6.30, 6.76, 7.22,
         7.68, 8.14, 8.59, 9.05, 9.51, 9.74, 10.13, 10.59, 11.04, 11.50, 11.96, 12.27, 12.58, 12.88, 13.27,
         13.65, 14.11, 14.41, 14.62, 14.64, 90]
int9_ah = [5.83, 5.6, 5.6, 5.4, 5.3, 5.5, 6.4, 6.0, 5.3, 4.9, 4.3, 4.0, 3.85, 3.7, 3.9, 4.0, 4.3, 4.5, 4.8, 4.75,
           5.0, 4.9, 4.8, 5.3, 4.9, 4.6, 4.4, 4.2, 4.4, 5.0, 6.0, 6.8, 6.4, 7.6, 7.4, 7.3, 6.9, 0, 0]

rain_t = [0, 1.90, 1.97, 2.05, 2.40, 2.47, 2.55, 2.62, 5.64, 5.69, 5.75, 12.40, 12.50, 12.55, 12.62, 15.20, 15.26,
          15.35, 18.00, 18.05, 18.10, 18.45, 18.51, 18.58, 18.74, 18.80, 19.02, 19.05, 19.10, 25.72, 25.79, 25.99,
          26.08, 26.17, 26.35, 26.48, 26.55, 27.35, 27.40, 27.70, 27.80, 27.93, 28.00, 34.90, 34.98, 35.36, 35.42,
          36.45, 36.55, 36.80, 36.95, 37.00, 37.12, 37.18, 37.25, 38.00, 38.40, 38.64, 38.70, 58.80, 58.84, 58.90,
          59.45, 59.50, 59.55, 59.72, 59.96, 60.05, 62.95, 63.05, 63.28, 63.51, 63.75, 63.85, 63.97, 64.05, 68.10,
          68.18, 68.40, 68.56, 68.65, 70.20, 70.25, 70.32, 70.60, 70.63, 70.70, 71.42, 71.47, 71.52, 73.58, 73.64,
          73.76, 73.92, 74.15, 74.38, 74.45, 76.05, 76.14, 76.40, 76.60, 76.65, 77.20, 77.25, 77.44, 77.50, 78.15,
          78.20, 78.28, 78.35, 78.51, 78.60, 78.74, 79.05, 79.15, 79.20, 79.28, 79.43, 79.60, 79.89, 80.12, 80.42,
          80.58, 80.73, 80.85, 80.96, 81.19, 81.42, 81.57, 81.76, 81.96, 82.10, 82.26, 82.40, 82.80, 82.98, 83.10,
          83.33, 83.42, 84.10, 84.15, 84.20, 90.00]
rain = [0, 0, 1.2, 0, 0, 0.9, 0.4, 0, 0, 0.4, 0, 0, 0.2, 1.9, 0, 0, 0.4, 0, 0, 0.9, 0, 0, 3.8, 1.0, 0.5, 0, 0, 0.3,
        0, 0, 1.5, 2.4, 1.4, 1.5, 1.0, 0.6, 0, 0, 2.9, 2.6, 0.8, 0.5, 0, 0, 0.8, 0.8, 0, 0, 1.8, 7.6, 3.6, 0, 0,
        5.8, 0, 0, 0.3, 0.5, 0, 0, 0.3, 0, 0, 4.6, 2.1, 1.5, 1.4, 0, 0, 1.8, 2.3, 0.9, 0, 0.9, 0.9, 0, 0, 2.3,
        1.0, 0.6, 0, 0, 0.7, 0, 0, 0.5, 0, 0, 1.4, 0, 0, 1.7, 0.3, 1.5, 2.9, 4.1, 0, 0, 0.6, 2.6, 0.6, 0, 0, 4.3,
        1.5, 0, 0, 1.8, 24.6, 0.5, 6.7, 0, 0.9, 1.7, 0, 32.5, 0, 0.5, 0, 0.9, 1.8, 2.6, 3.2, 2.4, 0.5, 3.6, 1.8,
        0.9, 5.2, 8.7, 0.9, 0, 1.4, 0, 0.9, 5.4, 0, 4.8, 0, 0, 3.0, 0, 0]

# ---------------- STYLE ----------------
GREY = "#595959"
GRID = "#d9d9d9"

C_EXT_T, C_INT9_T, C_INT18_T = "#e6a09c", "#ffc000", "#ff0000"
C_EXT_RH, C_INT9_RH, C_INT18_RH = "#c9d8ef", "#00b0f0", "#1f3864"
C_EXT_AH, C_INT9_AH, C_INT18_AH = "#a6a6a6", "#548235", "#404040"
C_RAIN = "#ffc000"

# a narrow face for the axis titles, if one is installed
_names = {f.name for f in font_manager.fontManager.ttflist}
TITLE_FONT = "DejaVu Sans"
for cand in ["Liberation Sans Narrow", "Roboto Condensed", "Open Sans Condensed", "Roboto", "Lato"]:
    if cand in _names:
        TITLE_FONT = cand
        break


def days(t):
    return mdates.date2num(START) + np.asarray(t, dtype=float)


fig = plt.figure(figsize=(25.42, 11.39), dpi=100)
ax = fig.add_axes([114 / 2542, 1 - 913 / 1139, (2401 - 114) / 2542, (913 - 16) / 1139])
ax2 = ax.twinx()

# left axis: RH and T
ax.plot(days(ext_t_t), ext_t, color=C_EXT_T, lw=3.0, label="Ext T (°C)")
ax.plot(days(int9_t_t), int9_t, color=C_INT9_T, lw=3.0, label="Int 9 T (°C)")
ax.plot(days(int18_t_t), int18_t, color=C_INT18_T, lw=3.6, label="Int 18 T (°C)")
ax.plot(days(ext_rh_t), ext_rh, color=C_EXT_RH, lw=3.3, label="Ext RH (%)")
ax.plot(days(rh18_t), int9_rh, color=C_INT9_RH, lw=3.4, label="Int 9 RH (%)")
ax.plot(days(rh18_t), int18_rh, color=C_INT18_RH, lw=3.6, label="Int 18 RH (%)")

# right axis: AH and precipitation
ax2.plot(days(ext_ah_t), ext_ah, color=C_EXT_AH, lw=3.0, label="Ext AH (g/m³)")
ax2.plot(days(ah9_t), int9_ah, color=C_INT9_AH, lw=3.0, label="Int 9 AH (g/m³)")
ax2.plot(days(ah18_t), int18_ah, color=C_INT18_AH, lw=3.0, label="Int 18 AH (g/m³)")
ax2.plot(days(rain_t), rain, color=C_RAIN, lw=2.6, label="Atmospheric precipitation - sum per hour (mm)")

# ---------------- AXES ----------------
x0 = datetime(2022, 11, 26)
ax.set_xlim(mdates.date2num(x0), mdates.date2num(datetime(2023, 3, 11)))
ax.set_ylim(-60, 100)
ax2.set_ylim(0, 80)

ax.set_xticks(mdates.date2num([x0 + timedelta(days=7 * i) for i in range(16)]))
ax.xaxis.set_major_formatter(mdates.DateFormatter("%d/%b/%y"))
for lbl in ax.get_xticklabels():
    lbl.set_rotation(-45)
    lbl.set_ha("left")
    lbl.set_va("center")
    lbl.set_rotation_mode("anchor")
ax.tick_params(axis="x", length=0, pad=20, labelsize=14.5, labelcolor=GREY)

ax.yaxis.set_major_locator(FixedLocator(np.arange(-60, 101, 5)))
ax.yaxis.set_major_formatter(FuncFormatter(lambda v, p: f"{v:.0f}" if v >= 0 else ""))
ax.tick_params(axis="y", length=0, pad=10, labelsize=13.5, labelcolor=GREY)
for lbl in ax.get_yticklabels():
    lbl.set_fontweight("bold")

ax2.yaxis.set_major_locator(FixedLocator(np.arange(0, 81, 10)))
ax2.yaxis.set_major_formatter(FuncFormatter(lambda v, p: f"{v:.0f}" if v <= 30 else ""))
ax2.tick_params(axis="y", length=9, width=1.2, color="#bfbfbf", pad=14, labelsize=13.5, labelcolor=GREY)
for lbl in ax2.get_yticklabels():
    lbl.set_fontweight("bold")

ax.grid(True, color=GRID, lw=1.5)
ax.set_axisbelow(True)
for a in (ax, ax2):
    a.spines["top"].set_visible(False)
    for s in ("left", "right", "bottom"):
        a.spines[s].set_color("#bfbfbf")
        a.spines[s].set_linewidth(1.5)

fig.text(0.524, 1 - 1050 / 1139, "Date (dd/mmm/yy)", ha="center", va="center",
         fontsize=13.5, fontweight="bold", color=GREY)

# legend at the bottom
h1, l1 = ax.get_legend_handles_labels()
h2, l2 = ax2.get_legend_handles_labels()
fig.legend(h1 + h2, l1 + l2, loc="center", bbox_to_anchor=(0.551, 1 - 1118 / 1139), ncol=10,
           frameon=False, labelcolor=GREY, handlelength=1.6, columnspacing=1.5,
           handletextpad=0.6, prop={"weight": "bold", "size": 13})


# multi-coloured axis titles, sized to the length they have in the original
def stacked_label(pieces, x, yc, rotation, length_px, size=16):
    r = fig.canvas.get_renderer()
    objs = [fig.text(x, 0, txt, rotation=rotation, color=col, fontsize=size, fontweight="bold",
                     family=TITLE_FONT, ha="center",
                     va="bottom" if rotation == 90 else "top") for txt, col in pieces]
    total = sum(o.get_window_extent(r).height for o in objs)
    for o in objs:
        o.set_fontsize(size * length_px / total)
    hs = [o.get_window_extent(r).height / fig.bbox.height for o in objs]
    total = sum(hs)
    y = yc - total / 2 if rotation == 90 else yc + total / 2
    for o, h in zip(objs, hs):
        o.set_y(y)
        y = y + h if rotation == 90 else y - h


fig.canvas.draw()
stacked_label([("Relative Humidity  (%) ", C_INT18_RH), ("and ", "#404040"),
               ("Temperature (°C)", C_INT18_T)], 29 / 2542, 1 - 482 / 1139, 90, 462)
stacked_label([("Absolute Humidity (g/m³) ", "#375623"), ("and ", GREY),
               ("Atmospheric precipitation (mm", "#ffc000")], 2476 / 2542, 1 - 520 / 1139, -90, 790)

fig.savefig("out.png", dpi=100)
